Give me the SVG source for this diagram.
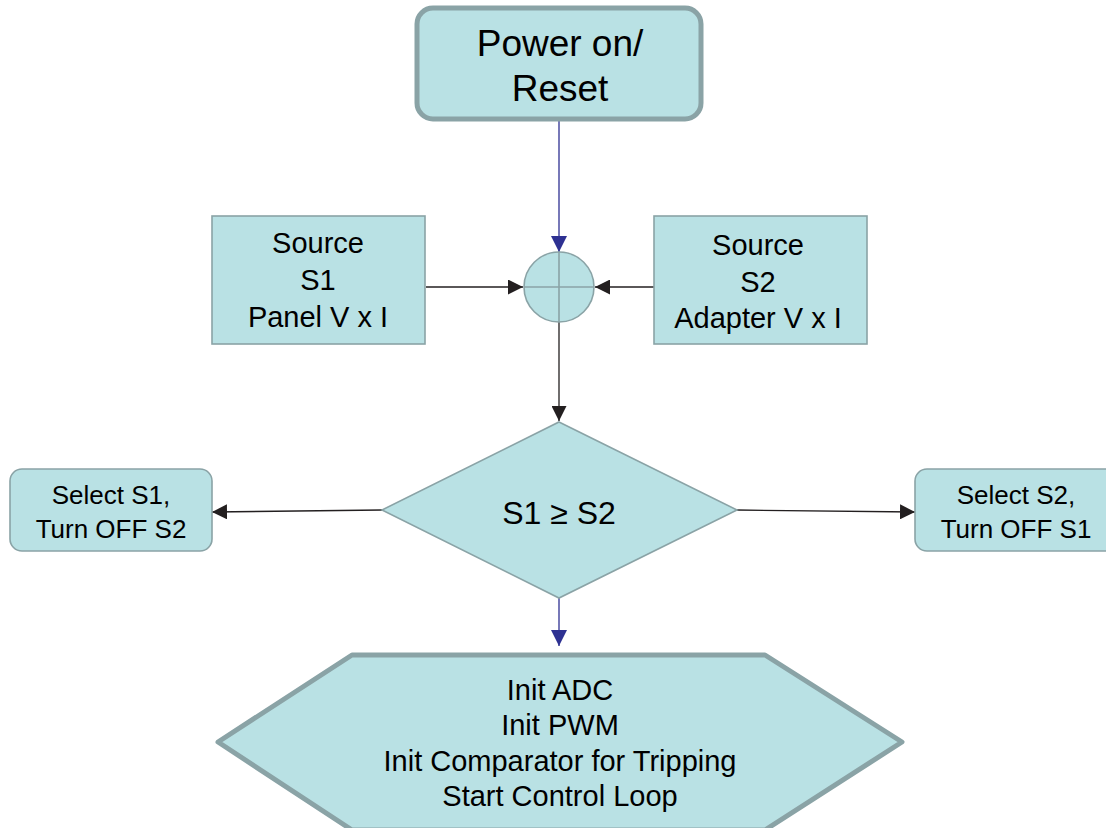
<svg xmlns="http://www.w3.org/2000/svg" width="1106" height="828" viewBox="0 0 1106 828">
<defs>
<style>
.shape{fill:#b9e1e4;stroke:#8aa3a6;stroke-width:1.6}
.thick{fill:#b9e1e4;stroke:#8aa3a6;stroke-width:5;stroke-linejoin:round}
.t{font-family:"Liberation Sans",Arial,sans-serif;fill:#000;text-anchor:middle}
.blk{stroke:#231f20;stroke-width:1.3;fill:none}
.blu{stroke:#2e3192;stroke-width:1.3;fill:none}
</style>
<marker id="ab" viewBox="0 0 10 10" refX="10" refY="5" markerWidth="15" markerHeight="15" markerUnits="userSpaceOnUse" orient="auto"><path d="M0,0 L10,5 L0,10 z" fill="#231f20"/></marker>
<marker id="au" viewBox="0 0 10 10" refX="10" refY="5" markerWidth="17" markerHeight="16" markerUnits="userSpaceOnUse" orient="auto"><path d="M0,0 L10,5 L0,10 z" fill="#2e3192"/></marker>
</defs>
<g id="connectors">
<path class="blu" d="M559,120 L559,252" marker-end="url(#au)"/>
<path class="blk" d="M426,287 L523,287" marker-end="url(#ab)"/>
<path class="blk" d="M654,287 L595,287" marker-end="url(#ab)"/>
<path class="blk" d="M559,322 L559,421" marker-end="url(#ab)"/>
<path class="blk" d="M382,510 L212,512" marker-end="url(#ab)"/>
<path class="blk" d="M737,510 L915,512" marker-end="url(#ab)"/>
<path class="blu" d="M559,598 L559,646" marker-end="url(#au)"/>
</g>
<g id="power">
<rect class="thick" x="417" y="8" width="284" height="111" rx="16"/>
<text class="t" x="560" y="56" font-size="37">Power on/</text>
<text class="t" x="560" y="101" font-size="37">Reset</text>
</g>
<g id="junction">
<circle class="shape" cx="559" cy="287" r="35"/>
<path d="M524,287 L594,287 M559,252 L559,322" stroke="#8aa3a6" stroke-width="1.6"/>
</g>
<g id="s1">
<rect class="shape" x="212" y="216" width="213" height="128"/>
<text class="t" x="318" y="253" font-size="29">Source</text>
<text class="t" x="318" y="290" font-size="29">S1</text>
<text class="t" x="318" y="327" font-size="29">Panel V x I</text>
</g>
<g id="s2">
<rect class="shape" x="654" y="216" width="213" height="128"/>
<text class="t" x="758" y="255" font-size="29">Source</text>
<text class="t" x="758" y="292" font-size="29">S2</text>
<text class="t" x="758" y="328" font-size="29">Adapter V x I</text>
</g>
<g id="decision">
<polygon class="shape" points="559,422 737,510 559,598 382,510"/>
<text class="t" x="559" y="524" font-size="32">S1 ≥ S2</text>
</g>
<g id="sel1">
<rect class="shape" x="10" y="469" width="202" height="82" rx="12"/>
<text class="t" x="111" y="504" font-size="26">Select S1,</text>
<text class="t" x="111" y="538" font-size="26">Turn OFF S2</text>
</g>
<g id="sel2">
<rect class="shape" x="915" y="469" width="202" height="82" rx="12"/>
<text class="t" x="1016" y="504" font-size="26">Select S2,</text>
<text class="t" x="1016" y="538" font-size="26">Turn OFF S1</text>
</g>
<g id="init">
<polygon class="thick" points="352,655 765,655 902,742 765,830 352,830 218,742"/>
<text class="t" x="560" y="700" font-size="29">Init ADC</text>
<text class="t" x="560" y="735" font-size="29">Init PWM</text>
<text class="t" x="560" y="771" font-size="29">Init Comparator for Tripping</text>
<text class="t" x="560" y="806" font-size="29">Start Control Loop</text>
</g>
</svg>
